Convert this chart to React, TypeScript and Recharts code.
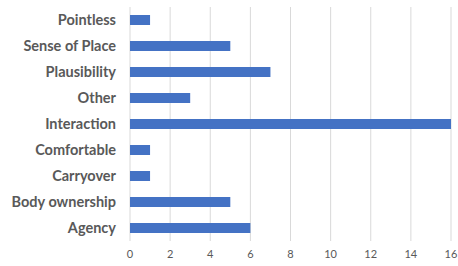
import React from 'react';
import { BarChart, Bar, XAxis, YAxis, CartesianGrid } from 'recharts';

const categories = ['Pointless', 'Sense of Place', 'Plausibility', 'Other', 'Interaction', 'Comfortable', 'Carryover', 'Body ownership', 'Agency'];
const counts = [1, 5, 7, 3, 16, 1, 1, 5, 6];
const xTicks = [0, 2, 4, 6, 8, 10, 12, 14, 16];

const data = categories.map((name, i) => ({ name, count: counts[i] }));

export default function App() {
  return (
    <div style={{ width: 458, height: 266, background: '#fff' }}>
      <style>{`body { margin: 0; }`}</style>
      <BarChart
        width={458}
        height={266}
        data={data}
        layout="vertical"
        margin={{ top: 7, right: 7, bottom: 0, left: 0 }}
      >
        <CartesianGrid horizontal={false} stroke="#d9d9d9" strokeWidth={1} />
        <XAxis
          type="number"
          domain={[0, 16]}
          ticks={xTicks}
          axisLine={false}
          tickLine={false}
          tickSize={0}
          tickMargin={9}
          height={25}
          tick={{ fill: '#595959', fontSize: 11, fontFamily: 'Lato, sans-serif' }}
        />
        <YAxis
          type="category"
          dataKey="name"
          width={130}
          axisLine={false}
          tickLine={false}
          tickSize={0}
          tickMargin={14}
          interval={0}
          tick={{ fill: '#595959', fontSize: 14.5, fontWeight: 'bold', fontFamily: 'Lato, sans-serif' }}
        />
        <Bar dataKey="count" fill="#4472c4" barSize={10} isAnimationActive={false} />
      </BarChart>
    </div>
  );
}
